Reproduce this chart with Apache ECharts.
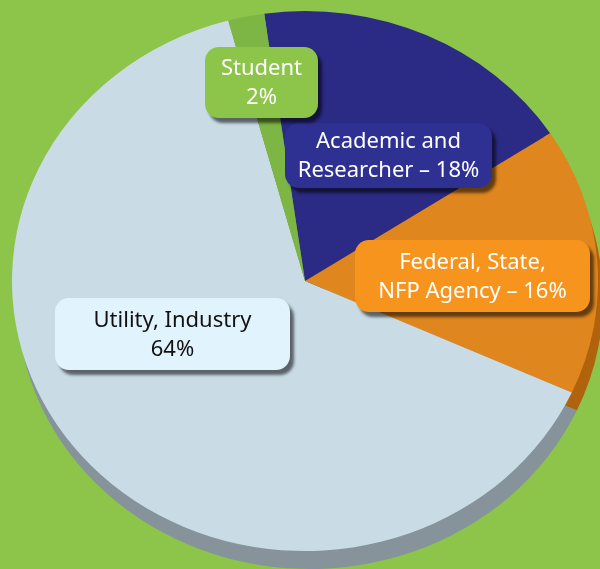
<!DOCTYPE html>
<html>
<head>
<meta charset="utf-8">
<script src="https://cdn.jsdelivr.net/npm/echarts@6/dist/echarts.min.js"></script>
<style>
  html, body { margin: 0; padding: 0; background: #8dc54b; }
  #pie { width: 600px; height: 569px; }
</style>
</head>
<body>
<div id="pie"></div>
<script>
// slice data, clockwise from just left of 12 o'clock
const names = ['Academic and Researcher', 'Federal, State, NFP Agency', 'Utility, Industry', 'Student'];
const shares = [18, 16, 64, 2];
const labelTexts = ['Academic and\nResearcher – 18%', 'Federal, State,\nNFP Agency – 16%', 'Utility, Industry\n64%', 'Student\n2%'];

const sliceColors = ['#2b2a85', '#df861e', '#c9dce6', '#7db644'];
const edgeColors = ['#1c1b5c', '#b0620c', '#86939b', '#5f8f2f'];
const boxColors = ['#2e3192', '#f7941d', '#e1f3fc', '#8dc54b'];
const textColors = ['#ffffff', '#ffffff', '#111111', '#ffffff'];
// label boxes: x, y, w, h
const boxes = [[285, 123, 207, 65], [355, 240, 235, 72], [55, 298, 235, 72], [205, 47, 113, 71]];

const cx = 305, cy = 281, rx = 293, ry = 270;
const startDeg = -8;   // degrees clockwise from top
const depth = 18;

const total = shares.reduce((a, b) => a + b, 0);
let acc = 0;
const angles = shares.map(v => {
    const a0 = startDeg + acc / total * 360;
    acc += v;
    return [a0, startDeg + acc / total * 360];
});

function toRad(d) {
    return (d - 90) * Math.PI / 180;
}

function renderItem(params, api) {
    const i = params.dataIndex;
    const a = angles[i];
    const b = boxes[i];
    const sy = ry / rx;
    return {
        type: 'group',
        children: [
            {
                type: 'group',
                scaleY: sy,
                originX: cx,
                originY: cy,
                children: [
                    {
                        type: 'sector',
                        z2: 1,
                        shape: { cx: cx + 5, cy: cy + depth / sy, r: rx, startAngle: toRad(a[0]), endAngle: toRad(a[1]) },
                        style: { fill: edgeColors[i] }
                    },
                    {
                        type: 'sector',
                        z2: 10,
                        shape: { cx: cx, cy: cy, r: rx, startAngle: toRad(a[0]), endAngle: toRad(a[1]) },
                        style: { fill: api.visual('color') }
                    }
                ]
            },
            {
                type: 'rect',
                z2: 20,
                shape: { x: b[0], y: b[1], width: b[2], height: b[3], r: 14 },
                style: {
                    fill: boxColors[i],
                    shadowColor: 'rgba(0,0,0,0.55)',
                    shadowBlur: 3,
                    shadowOffsetX: 4,
                    shadowOffsetY: 5
                }
            },
            {
                type: 'text',
                z2: 30,
                x: b[0] + b[2] / 2,
                y: b[1] + b[3] / 2 + 1,
                style: {
                    text: labelTexts[i],
                    fill: textColors[i],
                    font: '22px "Noto Sans"',
                    lineHeight: 29,
                    align: 'center',
                    verticalAlign: 'middle'
                }
            }
        ]
    };
}

const chart = echarts.init(document.getElementById('pie'), null, { renderer: 'canvas' });
chart.setOption({
    backgroundColor: '#8dc54b',
    animation: false,
    series: [{
        type: 'custom',
        coordinateSystem: 'none',
        renderItem: renderItem,
        data: shares.map((v, i) => ({ name: names[i], value: v, itemStyle: { color: sliceColors[i] } }))
    }]
});
</script>
</body>
</html>
